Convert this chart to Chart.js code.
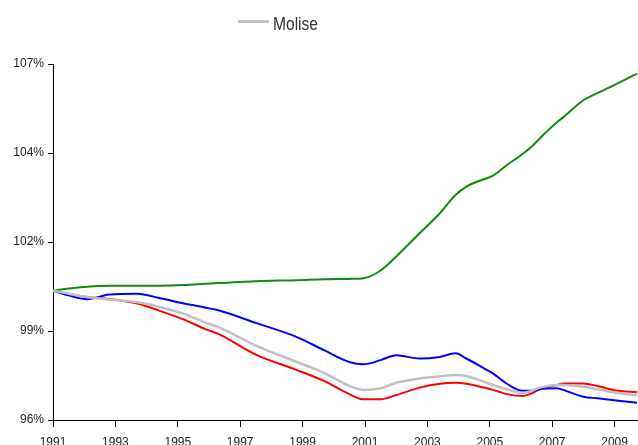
<!DOCTYPE html>
<html>
<head>
<meta charset="utf-8">
<script src="https://cdn.jsdelivr.net/npm/chart.js@4/dist/chart.umd.min.js"></script>
<style>
  body { margin: 0; background: #fff; }
  #wrap { position: relative; width: 638px; height: 445px; }
  #legend { position: absolute; left: 238px; top: 14px; height: 19px; }
  #legend .swatch { position: absolute; left: 0; top: 6px; width: 31px; height: 3px; background: #c0c0c0; border-radius: 1px; }
  #legend .txt { position: absolute; left: 35px; top: 0; font: 19px/19px 'Liberation Sans', Arial, sans-serif; color: #333; white-space: nowrap;
                 transform: scaleX(0.82); transform-origin: left center; }
</style>
</head>
<body>
<div id="wrap">
  <canvas id="chart" width="638" height="445"></canvas>
  <div id="legend"><span class="swatch"></span><span class="txt">Molise</span></div>
</div>
<script>
// anni (frazioni di anno) dei punti
const anni = [1991, 1991.5, 1992.1, 1992.8, 1993.7, 1994.4, 1995.2, 1995.9, 1996.3, 1997.5,
              1998.8, 1999.7, 2000.5, 2000.95, 2001.5, 2002.0, 2002.75, 2003.4, 2003.9, 2004.25,
              2004.9, 2005.1, 2005.55, 2006.05, 2006.4, 2006.6, 2007.15, 2007.35, 2008.0, 2008.45,
              2009.05, 2009.72];

// Molise (grigio)
const molise = [100, 99.9, 99.8, 99.72, 99.64, 99.5, 99.28, 99.0, 98.87, 98.3,
                97.8, 97.45, 97.05, 96.93, 96.98, 97.15, 97.28, 97.35, 97.39, 97.36,
                97.15, 97.08, 96.95, 96.84, 96.92, 97.0, 97.08, 97.08, 97.03, 96.95,
                96.84, 96.77];

// serie verde
const serieVerde = [100, 100.06, 100.12, 100.15, 100.15, 100.15, 100.17, 100.21, 100.23, 100.29,
                    100.32, 100.35, 100.36, 100.38, 100.62, 101.05, 101.77, 102.39, 102.95, 103.21,
                    103.47, 103.55, 103.88, 104.22, 104.5, 104.7, 105.2, 105.35, 105.88, 106.1,
                    106.38, 106.7];

// serie blu
const serieBlu = [100, 99.85, 99.73, 99.88, 99.9, 99.77, 99.6, 99.47, 99.39, 99.0,
                  98.57, 98.15, 97.79, 97.72, 97.85, 98.0, 97.9, 97.95, 98.06, 97.9,
                  97.55, 97.44, 97.12, 96.9, 96.9, 96.95, 96.98, 96.93, 96.72, 96.67,
                  96.6, 96.53];

// serie rossa
const serieRossa = [100, 99.9, 99.8, 99.74, 99.6, 99.38, 99.1, 98.8, 98.66, 98.02,
                    97.55, 97.2, 96.8, 96.64, 96.64, 96.77, 97.0, 97.12, 97.15, 97.12,
                    96.98, 96.93, 96.8, 96.74, 96.85, 96.95, 97.08, 97.13, 97.13, 97.05,
                    96.91, 96.86];

const xTicks = [1991, 1993, 1995, 1997, 1999, 2001, 2003, 2005, 2007, 2009];
const yTicks = [96, 98.75, 101.5, 104.25, 107];
const yTickLabels = ['96%', '99%', '102%', '104%', '107%'];

const toPoints = vals => vals.map((v, i) => ({ x: anni[i], y: v }));

function serie(label, vals, color, width) {
    return {
        label: label,
        data: toPoints(vals),
        borderColor: color,
        backgroundColor: color,
        borderWidth: width,
        pointRadius: 0,
        fill: false,
        cubicInterpolationMode: 'monotone'
    };
}

const tickFont = { family: "'Liberation Sans', Arial, sans-serif", size: 12 };

new Chart(document.getElementById('chart'), {
    type: 'line',
    data: {
        datasets: [
            serie('Molise', molise, '#c0c0c0', 2.5),
            serie('verde', serieVerde, '#108a10', 2),
            serie('blu', serieBlu, '#0000ff', 2),
            serie('rossa', serieRossa, '#ff0000', 2)
        ]
    },
    options: {
        responsive: false,
        animation: false,
        layout: { padding: { top: 64, left: 0, right: 0, bottom: 0 } },
        plugins: {
            legend: { display: false },
            tooltip: { enabled: false }
        },
        scales: {
            x: {
                type: 'linear',
                min: 1991,
                max: 2009.75,
                afterBuildTicks: s => { s.ticks = xTicks.map(v => ({ value: v })); },
                afterFit: s => { s.height = 25; },
                grid: { drawOnChartArea: false, tickLength: 7, color: '#000' },
                border: { color: '#000', width: 1 },
                ticks: {
                    padding: 8,
                    color: '#222',
                    font: tickFont,
                    maxRotation: 0,
                    autoSkip: false,
                    callback: v => String(v)
                }
            },
            y: {
                min: 96,
                max: 107,
                afterBuildTicks: s => { s.ticks = yTicks.map(v => ({ value: v })); },
                afterFit: s => { s.width = 53; },
                grid: { drawOnChartArea: false, tickLength: 5, color: '#000' },
                border: { color: '#000', width: 1 },
                ticks: {
                    padding: 4,
                    color: '#222',
                    font: tickFont,
                    callback: v => yTickLabels[yTicks.indexOf(v)]
                }
            }
        }
    }
});
</script>
</body>
</html>
